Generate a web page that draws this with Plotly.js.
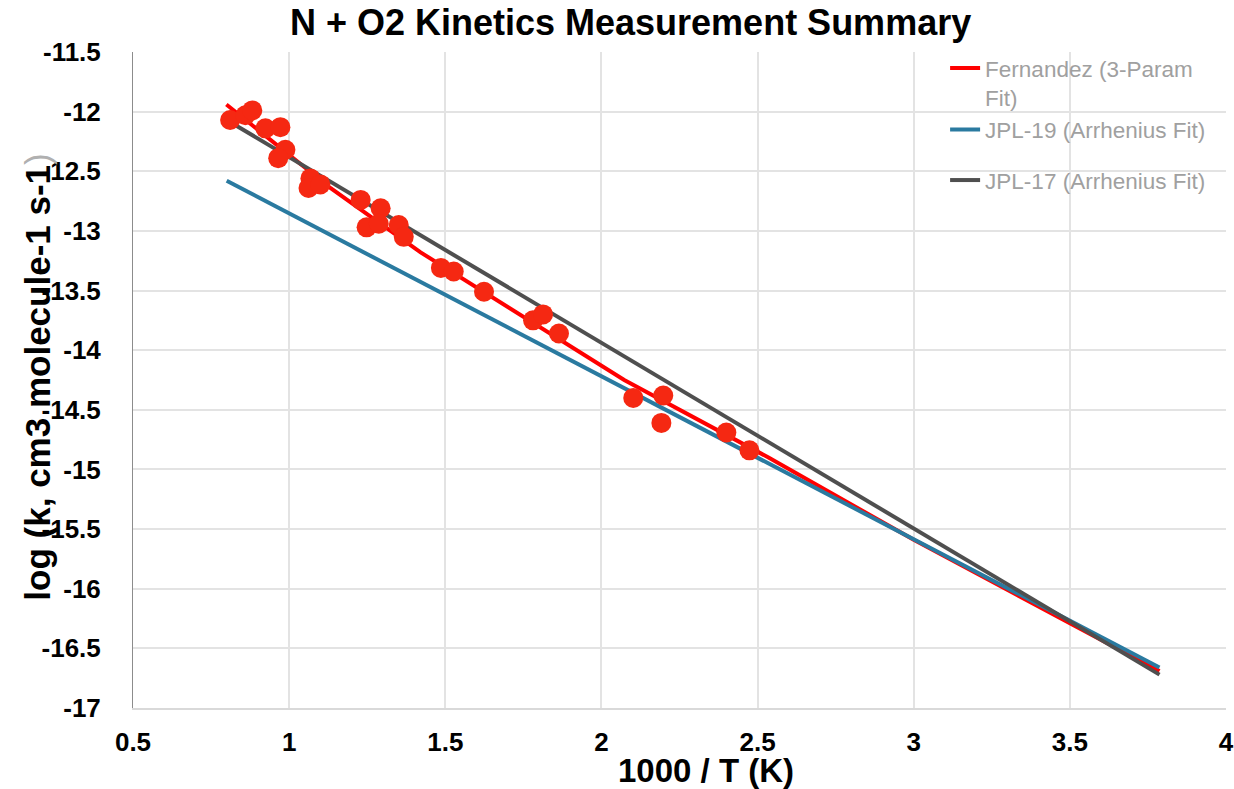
<!DOCTYPE html>
<html>
<head>
<meta charset="utf-8">
<script src="https://cdn.plot.ly/plotly-3.0.1.min.js"></script>
<style>
  html, body { margin: 0; padding: 0; background: #ffffff; }
  #chart { width: 1234px; height: 789px; }
</style>
</head>
<body>
<div id="chart"></div>
<script>
// Measured rate constants: 1000/T (1/K) and log10 k (cm3 molecule-1 s-1)
const measInvT = [0.811, 0.860, 0.882, 0.924, 0.972, 0.988, 0.965, 1.068, 1.062, 1.100,
                  1.229, 1.293, 1.248, 1.287, 1.351, 1.367, 1.486, 1.527, 1.624, 1.781,
                  1.813, 1.864, 2.102, 2.198, 2.192, 2.400, 2.474];
const measLogK = [-12.07, -12.03, -11.99, -12.14, -12.13, -12.32, -12.39, -12.56, -12.64, -12.61,
                  -12.74, -12.81, -12.97, -12.94, -12.95, -13.05, -13.31, -13.34, -13.51, -13.75,
                  -13.70, -13.86, -14.40, -14.38, -14.61, -14.69, -14.84];

// Fernandez three-parameter fit
const fernInvT = [0.799, 0.940, 1.132, 1.421, 1.925, 2.073, 2.535, 3.000, 3.500, 3.787];
const fernLogK = [-11.94, -12.24, -12.64, -13.18, -14.00, -14.25, -14.90, -15.59, -16.29, -16.69];

// Arrhenius recommendations (straight lines in this coordinate system)
const jpl19InvT = [0.800, 3.787];
const jpl19LogK = [-12.58, -16.66];
const jpl17InvT = [0.800, 3.787];
const jpl17LogK = [-12.07, -16.72];

const xTicks = [0.5, 1, 1.5, 2, 2.5, 3, 3.5, 4];
const yTicks = [-11.5, -12, -12.5, -13, -13.5, -14, -14.5, -15, -15.5, -16, -16.5, -17];

const FONT = '"Liberation Sans", Arial, sans-serif';
const legendFont = { family: FONT, size: 22.5, color: '#a0a0a0' };

const traces = [
  {
    x: fernInvT, y: fernLogK, mode: 'lines', type: 'scatter',
    name: 'Fernandez (3-Param<br>Fit)', legend: 'legend',
    line: { color: '#ff0000', width: 4 }
  },
  {
    x: jpl19InvT, y: jpl19LogK, mode: 'lines', type: 'scatter',
    name: 'JPL-19 (Arrhenius Fit)', legend: 'legend',
    line: { color: '#2a7aa0', width: 4 }
  },
  {
    x: jpl17InvT, y: jpl17LogK, mode: 'lines', type: 'scatter',
    name: 'JPL-17 (Arrhenius Fit)', legend: 'legend2',
    line: { color: '#4f4f4f', width: 4 }
  },
  {
    x: measInvT, y: measLogK, mode: 'markers', type: 'scatter',
    name: 'Measurements', showlegend: false,
    marker: { color: '#f52812', size: 20, line: { width: 0 } }
  }
];

const layout = {
  width: 1234, height: 789,
  margin: { l: 133, r: 8, t: 52, b: 81 },
  paper_bgcolor: '#ffffff', plot_bgcolor: '#ffffff',
  font: { family: FONT, color: '#000000' },
  title: {
    text: '<b>N + O2 Kinetics Measurement Summary</b>',
    font: { family: FONT, size: 36, color: '#000000' },
    x: 0.511, xanchor: 'center', y: 0.972, yanchor: 'middle'
  },
  xaxis: {
    range: [0.5, 4], tickvals: xTicks, ticktext: xTicks.map(String),
    showgrid: true, gridcolor: '#e3e3e3', gridwidth: 2,
    zeroline: false, showline: true, linecolor: '#d9d9d9', linewidth: 2,
    ticks: '', ticklabelstandoff: 10,
    tickfont: { family: FONT, size: 26, color: '#000000', weight: 'bold' }
  },
  yaxis: {
    range: [-17, -11.5], tickvals: yTicks, ticktext: yTicks.map(String),
    showgrid: true, gridcolor: '#e3e3e3', gridwidth: 2,
    zeroline: false, showline: true, linecolor: '#8c8c8c', linewidth: 1,
    ticks: '', ticklabelstandoff: 26,
    tickfont: { family: FONT, size: 26, color: '#000000', weight: 'bold' }
  },
  legend: {
    x: 0.743, y: 1.008, xanchor: 'left', yanchor: 'top',
    bgcolor: 'rgba(0,0,0,0)', borderwidth: 0,
    font: legendFont, valign: 'top', itemwidth: 30
  },
  legend2: {
    x: 0.743, y: 0.837, xanchor: 'left', yanchor: 'top',
    bgcolor: 'rgba(0,0,0,0)', borderwidth: 0,
    font: legendFont, valign: 'top', itemwidth: 30
  },
  annotations: [
    {
      text: '<b>log (k, cm3 molecule-1 s-1</b><span style="color:#b0b0b0">)</span>',
      xref: 'paper', yref: 'paper', x: -0.087, y: 0.505,
      xanchor: 'center', yanchor: 'middle', textangle: -90, showarrow: false,
      font: { family: FONT, size: 35, color: '#000000' }
    },
    {
      text: '<b>1000 / T (K)</b>',
      xref: 'paper', yref: 'paper', x: 0.524, y: -0.095,
      xanchor: 'center', yanchor: 'middle', showarrow: false,
      font: { family: FONT, size: 33, color: '#000000' }
    }
  ],
  showlegend: true
};

Plotly.newPlot('chart', traces, layout, { displayModeBar: false, responsive: false, staticPlot: true });
</script>
</body>
</html>
